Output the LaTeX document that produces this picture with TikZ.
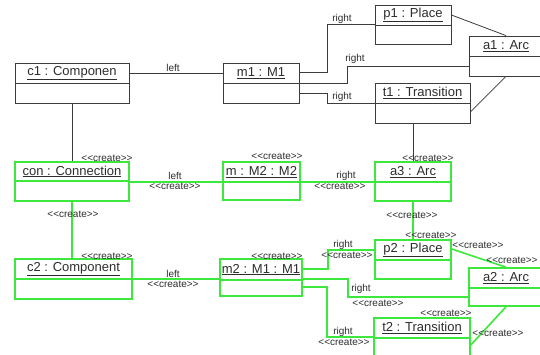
\documentclass[tikz,border=0pt]{standalone}
\usepackage{fontspec}
\setmainfont{Liberation Sans}
\usetikzlibrary{fit}
\definecolor{ugreen}{RGB}{60,232,60}
\definecolor{ugray}{RGB}{60,60,60}
\definecolor{utext}{RGB}{45,45,45}
\tikzset{
  objblack/.style={draw=ugray, line width=0.8pt},
  objgreen/.style={draw=ugreen, line width=1.6pt},
  objtitle/.style={font=\fontsize{13}{15}\selectfont, text=utext, inner sep=0pt},
  lbl/.style={font=\fontsize{10}{12}\selectfont, text=utext, inner sep=0pt},
  cblack/.style={draw=ugray, line width=0.8pt},
  cgreen/.style={draw=ugreen, line width=1.6pt},
}
\newcommand{\umlobj}[8]{%
  \node[#2, fit={(#3,#4) (#5,#7)}, inner sep=0pt] (#1) {};
  \draw[#2] (#1.west |- 0,#6) -- (#1.east |- 0,#6);
  \node[objtitle] (#1t) at ({(#3+#5)/2},{(#4+#6)/2}) {\underline{#8}};
}
\begin{document}
\begin{tikzpicture}[x=1pt,y=-1pt]
\useasboundingbox (0,0) rectangle (540,355);
\clip (0,0) rectangle (540,355);
\fill[white] (0,0) rectangle (540,355);

% black objects
\umlobj{c1}{objblack}{15}{63}{129}{83}{103}{c1 : Componen}
\umlobj{m1}{objblack}{223}{63}{299}{83}{103}{m1 : M1}
\umlobj{p1}{objblack}{375}{5}{451}{25}{44}{p1 : Place}
\umlobj{a1}{objblack}{469}{36}{543}{56}{76}{a1 : Arc}
\umlobj{t1}{objblack}{375}{83}{470}{103}{123}{t1 : Transition}

% green objects
\umlobj{con}{objgreen}{15}{162}{129}{181}{201}{con : Connection}
\umlobj{m}{objgreen}{223}{162}{300}{182}{200}{m : M2 : M2}
\umlobj{a3}{objgreen}{375}{162}{451}{182}{201}{a3 : Arc}
\umlobj{c2}{objgreen}{15}{259}{132}{279}{299}{c2 : Component}
\umlobj{m2}{objgreen}{220}{259}{302}{280}{296}{m2 : M1 : M1}
\umlobj{p2}{objgreen}{375}{240}{451}{260}{279}{p2 : Place}
\umlobj{a2}{objgreen}{469}{268}{543}{288}{306}{a2 : Arc}
\umlobj{t2}{objgreen}{374}{318}{470}{338}{372}{t2 : Transition}

% black connectors
\draw[cblack] (c1.east |- 0,73) -- (m1.west |- 0,73);
\draw[cblack] (c1.south) -- (con.north);
\draw[cblack] (m1.east |- 0,72) -- (327,72) |- (p1.west |- 0,24);
\draw[cblack] (m1.east |- 0,83) -- (347,83) |- (a1.west |- 0,66);
\draw[cblack] (m1.east |- 0,93) -- (327,93) |- (t1.west |- 0,103);
\draw[cblack] (p1.east |- 0,15) -- (a1.north);
\draw[cblack] (t1.east |- 0,112) -- (a1.south);
\draw[cblack] (t1.south -| 413,0) -- (a3.north -| 413,0);

% green connectors
\draw[cgreen] (con.east |- 0,182) -- (m.west |- 0,182);
\draw[cgreen] (m.east |- 0,182) -- (a3.west |- 0,182);
\draw[cgreen] (con.south) -- (con.south |- c2.north);
\draw[cgreen] (c2.east |- 0,279) -- (m2.west |- 0,279);
\draw[cgreen] (a3.south) -- (p2.north);
\draw[cgreen] (m2.east |- 0,269) -- (328,269) |- (p2.west |- 0,250);
\draw[cgreen] (m2.east |- 0,279) -- (348,279) |- (a2.west |- 0,297);
\draw[cgreen] (m2.east |- 0,287) -- (327,287) |- (t2.west |- 0,337);
\draw[cgreen] (p2.east |- 0,249) -- (a2.north);
\draw[cgreen] (t2.east |- 0,345) -- (a2.south);

% labels on black connectors
\node[lbl] (l1) at (173,68) {left};
\node[lbl] (l2) at (342,19) {right};
\node[lbl] (l3) at (355,59) {right};
\node[lbl] (l4) at (342,97) {right};

% labels on green connectors
\node[lbl] (l5) at (175,176) {left};
\node[lbl] (l6) at (175,186) {<{}<create>{}>};
\node[lbl] (l7) at (346,176) {right};
\node[lbl] (l8) at (340,186) {<{}<create>{}>};
\node[lbl] (l9) at (73,214) {<{}<create>{}>};
\node[lbl] (l10) at (173,274) {left};
\node[lbl] (l11) at (173,284) {<{}<create>{}>};
\node[lbl] (l12) at (412,215) {<{}<create>{}>};
\node[lbl] (l13) at (343,245) {right};
\node[lbl] (l14) at (347,255) {<{}<create>{}>};
\node[lbl] (l15) at (361,289) {right};
\node[lbl] (l16) at (378,303) {<{}<create>{}>};
\node[lbl] (l17) at (343,332) {right};
\node[lbl] (l18) at (344,342) {<{}<create>{}>};
\node[lbl] (l19) at (478,245) {<{}<create>{}>};
\node[lbl] (l20) at (498,333) {<{}<create>{}>};

% create labels above objects
\node[lbl] (s1) at (107,158) {<{}<create>{}>};
\node[lbl] (s2) at (277,156) {<{}<create>{}>};
\node[lbl] (s3) at (428,158) {<{}<create>{}>};
\node[lbl] (s4) at (107,256) {<{}<create>{}>};
\node[lbl] (s5) at (277,256) {<{}<create>{}>};
\node[lbl] (s6) at (431,235) {<{}<create>{}>};
\node[lbl] (s7) at (512,260) {<{}<create>{}>};
\node[lbl] (s8) at (446,313) {<{}<create>{}>};
\end{tikzpicture}
\end{document}
